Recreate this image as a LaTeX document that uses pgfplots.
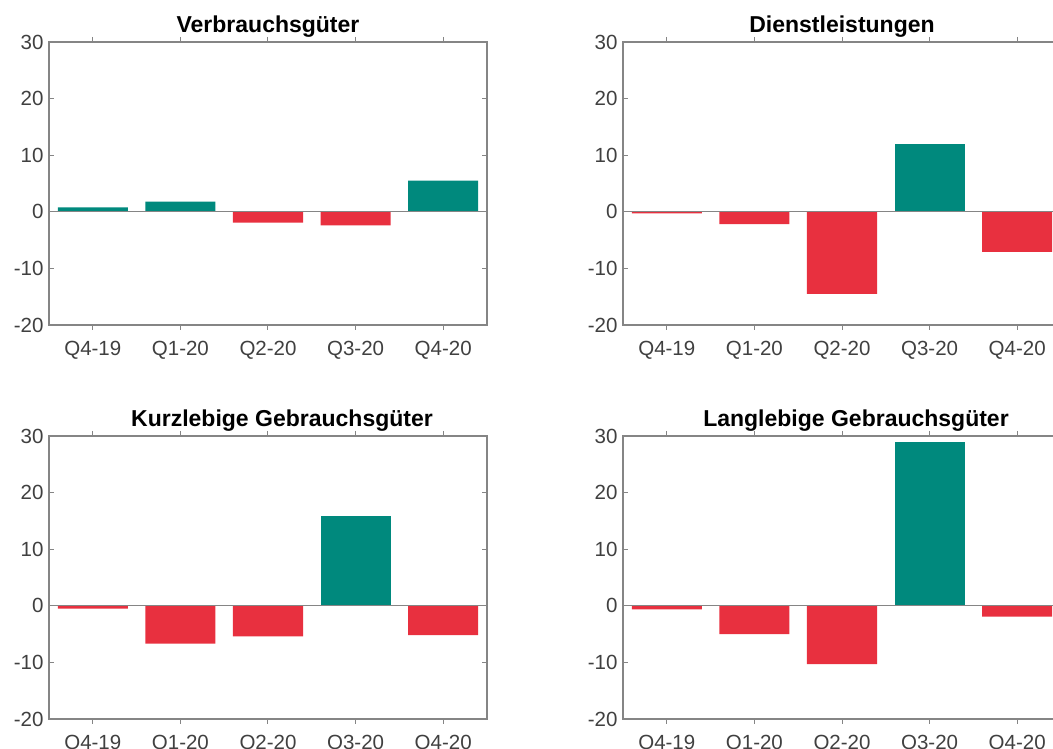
\documentclass[border=0pt]{standalone}
\usepackage{fontspec}
\setmainfont{Liberation Sans}
\usepackage{pgfplots}
\pgfplotsset{compat=1.18}
\definecolor{posc}{HTML}{00897D}
\definecolor{negc}{HTML}{E8303F}
\definecolor{axisc}{HTML}{858585}
\definecolor{labc}{HTML}{404040}
\pgfplotsset{
 panel/.style={
  width=438pt, height=283pt, scale only axis,
  anchor=south west,
  xmin=0.5, xmax=5.5, ymin=-20, ymax=30,
  xtick={1,2,3,4,5}, xticklabels={Q4-19,Q1-20,Q2-20,Q3-20,Q4-20},
  ytick={-20,-10,0,10,20,30}, yticklabels={-20,-10,0,10,20,30},
  axis line style={axisc, line width=1.2pt},
  tick style={axisc, line width=1pt},
  major tick length=5pt,
  tick align=inside,
  ticklabel style={font=\fontsize{20.5}{24}\selectfont, text=labc},
  xticklabel style={yshift=-8pt},
  yticklabel style={xshift=-2pt},
  title style={font=\fontsize{23}{27}\selectfont\bfseries, at={(0.5,1)}, anchor=base, yshift=3.5pt},
  ybar, bar width=0.8, bar shift=0pt,
 },
 posbar/.style={fill=posc, draw=none},
 negbar/.style={fill=negc, draw=none},
}
\begin{document}
\begin{tikzpicture}
\path[use as bounding box] (0,0) rectangle (1053pt,749pt);
\clip (0,0) rectangle (1053pt,749pt);
% top left
\begin{axis}[panel, at={(49pt,424pt)}, title={Verbrauchsgüter}]
\addplot[posbar] coordinates {(1,0.8) (2,1.8) (5,5.5)};
\addplot[negbar] coordinates {(3,-1.9) (4,-2.4)};
\draw[axisc, line width=1.2pt] (axis cs:0.5,0) -- (axis cs:5.5,0);
\end{axis}
% top right
\begin{axis}[panel, at={(623pt,424pt)}, title={Dienstleistungen}]
\addplot[posbar] coordinates {(4,12.0)};
\addplot[negbar] coordinates {(1,-0.3) (2,-2.2) (3,-14.5) (5,-7.1)};
\draw[axisc, line width=1.2pt] (axis cs:0.5,0) -- (axis cs:5.5,0);
\end{axis}
% bottom left
\begin{axis}[panel, at={(49pt,30pt)}, title={Kurzlebige Gebrauchsgüter}, title style={xshift=14pt}]
\addplot[posbar] coordinates {(4,15.8)};
\addplot[negbar] coordinates {(1,-0.5) (2,-6.7) (3,-5.4) (5,-5.2)};
\draw[axisc, line width=1.2pt] (axis cs:0.5,0) -- (axis cs:5.5,0);
\end{axis}
% bottom right
\begin{axis}[panel, at={(623pt,30pt)}, title={Langlebige Gebrauchsgüter}, title style={xshift=14pt}]
\addplot[posbar] coordinates {(4,28.9)};
\addplot[negbar] coordinates {(1,-0.65) (2,-5.0) (3,-10.3) (5,-1.9)};
\draw[axisc, line width=1.2pt] (axis cs:0.5,0) -- (axis cs:5.5,0);
\end{axis}
\end{tikzpicture}
\end{document}
